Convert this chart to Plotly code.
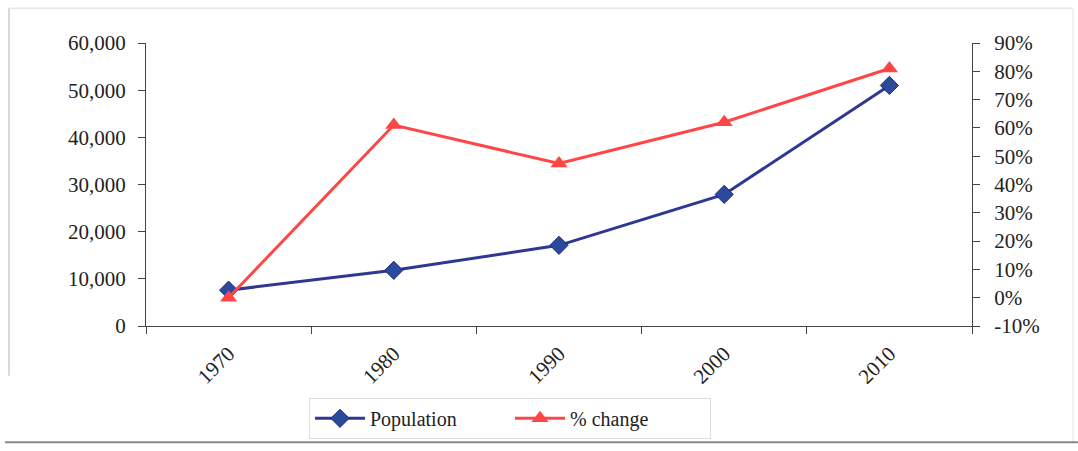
import plotly.graph_objects as go

years = ["1970", "1980", "1990", "2000", "2010"]
population = [7600, 11800, 17100, 27900, 51000]
pct_change = [0.00, 0.61, 0.474, 0.62, 0.81]
pct_tickvals = [-0.1, 0.0, 0.1, 0.2, 0.3, 0.4, 0.5, 0.6, 0.7, 0.8, 0.9]
pct_ticktext = ["-10%", "0%", "10%", "20%", "30%", "40%", "50%", "60%", "70%", "80%", "90%"]

W, H = 1078, 451
L, R, T, B = 146, 106, 43, 123
pw, ph = W - L - R, H - T - B

def px(x):
    return (x - L) / pw

def py(y):
    return (H - B - y) / ph

font = "'Liberation Serif', 'Times New Roman', Tinos, 'DejaVu Serif', serif"

fig = go.Figure()
fig.add_trace(go.Scatter(
    x=years, y=population, name="Population", mode="lines+markers",
    line=dict(color="#2E3792", width=3),
    marker=dict(symbol="diamond", size=14, color="#2B4A9C", line=dict(color="#1E2A78", width=1)),
))
fig.add_trace(go.Scatter(
    x=years, y=pct_change, name="% change", mode="lines+markers", yaxis="y2",
    line=dict(color="#FF4646", width=3),
    marker=dict(symbol="triangle-up", size=15, color="#FF4646"),
))

axis_common = dict(
    showgrid=False, zeroline=False, showline=True, linecolor="#444", linewidth=1.2,
    ticks="outside", tickcolor="#444", ticklen=7, tickwidth=1,
    tickfont=dict(family=font, size=21, color="#222"),
)

fig.update_layout(
    width=W, height=H,
    margin=dict(l=L, r=R, t=T, b=B, pad=0),
    paper_bgcolor="white", plot_bgcolor="white",
    font=dict(family=font, color="#222"),
    separators=".,",
    xaxis=dict(type="category", range=[-0.5, 4.5], tickson="boundaries",
               tickangle=-45, ticklabelstandoff=6, **axis_common),
    yaxis=dict(range=[0, 60000], dtick=10000, tickformat=",d", ticklabelstandoff=8, **axis_common),
    yaxis2=dict(range=[-0.1, 0.9], tickmode="array", tickvals=pct_tickvals, ticktext=pct_ticktext,
                overlaying="y", side="right", ticklabelstandoff=10, **axis_common),
    showlegend=True,
    legend=dict(orientation="h", x=px(510), y=py(421), xanchor="center", yanchor="middle",
                bordercolor="#DDDDDD", borderwidth=1, bgcolor="white",
                font=dict(family=font, size=20, color="#222"), itemwidth=50,
                entrywidth=135),
    shapes=[
        dict(type="line", xref="paper", yref="paper", x0=px(9), x1=px(9), y0=py(8), y1=py(378),
             line=dict(color="#CCCCCC", width=1.5)),
        dict(type="line", xref="paper", yref="paper", x0=px(9), x1=px(1073), y0=py(8), y1=py(8),
             line=dict(color="#E6E6E6", width=1.5)),
        dict(type="line", xref="paper", yref="paper", x0=px(1073), x1=px(1073), y0=py(8), y1=py(445),
             line=dict(color="#EEEEEE", width=1.5)),
        dict(type="line", xref="paper", yref="paper", x0=px(5), x1=px(1078), y0=py(445), y1=py(445),
             line=dict(color="#888888", width=2)),
    ],
)

fig.write_html("out.html")
